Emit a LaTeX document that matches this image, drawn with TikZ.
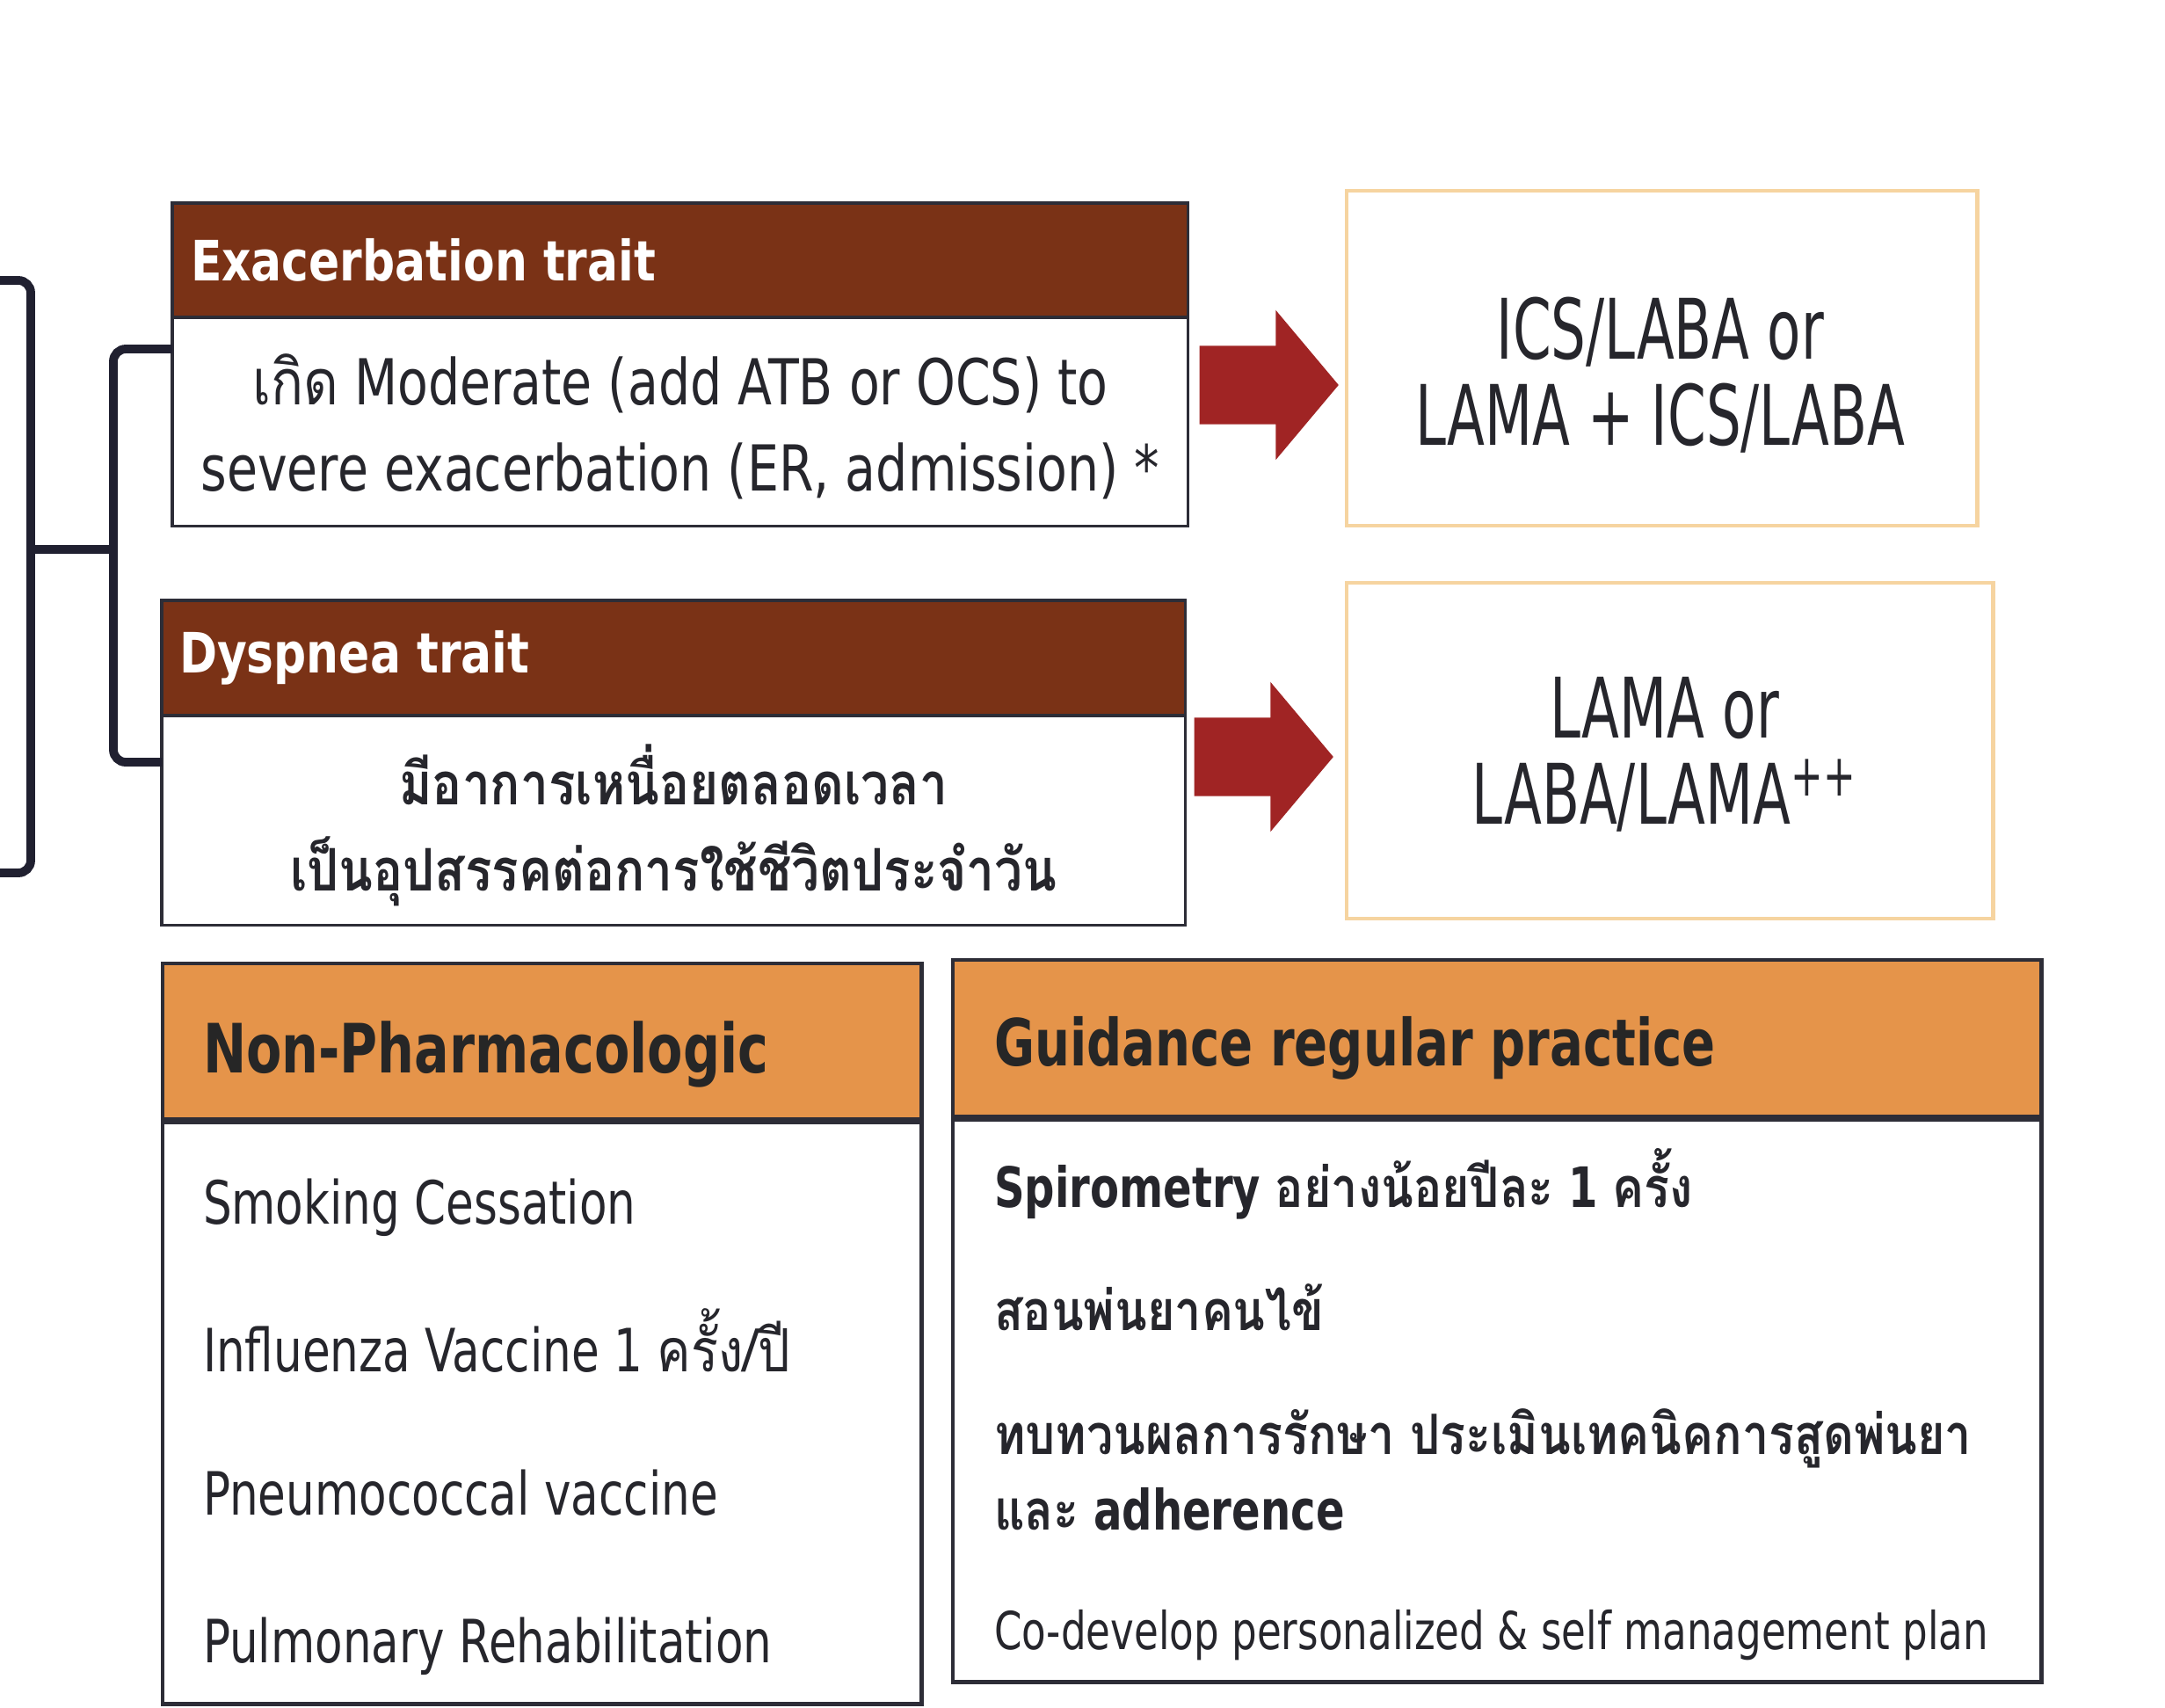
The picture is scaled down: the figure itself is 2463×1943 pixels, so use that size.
\documentclass[tikz,border=0pt]{standalone}
\usepackage{fontspec}
\setmainfont{DejaVu Sans}[FakeStretch=0.76]
\newfontfamily\narrowfont{DejaVu Sans}[FakeStretch=0.66]
\newfontfamily\hdrfont{DejaVu Sans}[FakeStretch=0.82]
\newfontfamily\bodyfont{DejaVu Sans}[FakeStretch=0.79]
\newfontfamily\thai{Loma}[Script=Thai,FakeStretch=0.85]
\usetikzlibrary{shapes.arrows}
\definecolor{brownhdr}{RGB}{122,50,22}
\definecolor{orangehdr}{RGB}{229,148,74}
\definecolor{arrred}{RGB}{160,36,36}
\definecolor{resline}{RGB}{246,212,160}
\definecolor{boxline}{RGB}{45,45,55}
\definecolor{brkcol}{RGB}{32,32,48}
\definecolor{txtcol}{RGB}{38,38,44}
\begin{document}
\begin{tikzpicture}[x=0.01cm,y=-0.01cm,
  every node/.style={inner sep=0pt,outer sep=0pt},
  brk/.style={draw=brkcol,line width=2.8pt,rounded corners=4pt},
  trhdr/.style={draw=boxline,line width=0.9pt,fill=brownhdr,anchor=north west},
  trbody/.style={draw=boxline,line width=0.9pt,fill=white,anchor=north west},
  resbox/.style={draw=resline,line width=1.2pt,fill=white,anchor=north west},
  bighdr/.style={draw=boxline,line width=1.4pt,fill=orangehdr,anchor=north west},
  bigbody/.style={draw=boxline,line width=1.4pt,fill=white,anchor=north west},
  hdrtxt/.style={text=white,font=\fontsize{18}{22}\selectfont\hdrfont\bfseries,anchor=west},
  bodytxt/.style={text=txtcol,align=center,font=\fontsize{20.5}{28}\selectfont\bodyfont},
  restxt/.style={text=txtcol,align=center,font=\fontsize{27}{28}\selectfont\narrowfont},
  bightxt/.style={text=black!85,font=\fontsize{22}{24}\selectfont\bfseries,anchor=west},
  itemtxt/.style={text=txtcol,font=\fontsize{19.3}{24}\selectfont,anchor=base west},
  gdtxt/.style={text=txtcol,font=\fontsize{18}{24}\selectfont\bfseries,anchor=base west},
  fatarrow/.style={single arrow,fill=arrred,draw=none,minimum height=1.58cm,
    minimum width=1.69cm,text height=0.88cm,text depth=0pt,
    single arrow head extend=0.405cm,single arrow tip angle=100}
]
\useasboundingbox (0,0) rectangle (2463,1943);
\fill[white] (0,0) rectangle (2463,1943);

% brackets
\coordinate (bt) at (0,319);
\coordinate (bb) at (0,993);
\coordinate (bigx) at (35,625);
\coordinate (subx) at (129,625);
\draw[brk] (bt) -| (bigx) |- (bb);
\draw[brk] (bigx) -- (subx);

% trait boxes
\node[trhdr,minimum width=11.55cm,minimum height=1.30cm] (exh) at (196,231) {};
\node[trbody,minimum width=11.55cm,minimum height=2.37cm] (exb) at (196,361) {};
\node[trhdr,minimum width=11.64cm,minimum height=1.31cm] (dyh) at (184,683) {};
\node[trbody,minimum width=11.64cm,minimum height=2.38cm] (dyb) at (184,814) {};

\draw[brk] ([yshift=-0.36cm]exb.north west) -| (subx) |- ([yshift=-0.53cm]dyb.north west);

\node[hdrtxt] (exht) at ([xshift=0.21cm]exh.west) {Exacerbation trait};
\node[hdrtxt] (dyht) at ([xshift=0.20cm]dyh.west) {Dyspnea trait};
\node[bodytxt] (exbt) at ([yshift=-0.06cm]exb.center) {{\thai เกิด} Moderate (add ATB or OCS) to\\severe exacerbation (ER, admission) *};
\node[bodytxt,font=\fontsize{19}{28}\selectfont\bfseries] (dybt) at ([yshift=-0.06cm]dyb.center) {{\thai มีอาการเหนื่อยตลอดเวลา}\\{\thai เป็นอุปสรรคต่อการใช้ชีวิตประจำวัน}};

% result boxes
\node[resbox,minimum width=7.17cm,minimum height=3.81cm] (res1) at (1532,217) {};
\node[resbox,minimum width=7.35cm,minimum height=3.82cm] (res2) at (1532,663) {};
\node[restxt] (r1t) at ([xshift=-0.02cm,yshift=-0.19cm]res1.center) {ICS/LABA or\\LAMA + ICS/LABA};
\node[restxt] (r2t) at ([xshift=-0.06cm,yshift=-0.04cm]res2.center) {LAMA or\\LABA/LAMA\textsuperscript{++}};

% arrows
\node[fatarrow] (arr1) at (1425,438) {};
\node[fatarrow] (arr2) at (1419,861) {};

% bottom boxes
\node[bighdr,minimum width=8.63cm,minimum height=1.79cm] (nph) at (185,1096) {};
\node[bigbody,minimum width=8.63cm,minimum height=6.63cm] (npb) at (185,1275) {};
\node[bighdr,minimum width=12.38cm,minimum height=1.80cm] (gdh) at (1084,1092) {};
\node[bigbody,minimum width=12.38cm,minimum height=6.41cm] (gdb) at (1084,1272) {};
\draw[draw=boxline,line width=2.4pt] (nph.south west) -- (nph.south east);
\draw[draw=boxline,line width=2.4pt] (gdh.south west) -- (gdh.south east);

\node[bightxt] (npht) at ([xshift=0.46cm,yshift=-0.14cm]nph.west) {Non-Pharmacologic};
\node[bightxt,font=\fontsize{21}{24}\selectfont\bfseries] (gdht) at ([xshift=0.47cm,yshift=-0.10cm]gdh.west) {Guidance regular practice};

\node[itemtxt] (np1) at (231,1392) {Smoking Cessation};
\node[itemtxt] (np2) at (231,1560) {Influenza Vaccine 1 {\thai ครั้ง/ปี}};
\node[itemtxt] (np3) at (231,1723) {Pneumococcal vaccine};
\node[itemtxt] (np4) at (231,1891) {Pulmonary Rehabilitation};

\node[gdtxt] (gd1) at (1131,1373) {Spirometry {\thai อย่างน้อยปีละ} 1 {\thai ครั้ง}};
\node[gdtxt] (gd2) at (1131,1513) {{\thai สอนพ่นยาคนไข้}};
\node[gdtxt] (gd3) at (1131,1654) {{\thai ทบทวนผลการรักษา ประเมินเทคนิคการสูดพ่นยา}};
\node[gdtxt] (gd4) at (1131,1740) {{\thai และ} adherence};
\node[itemtxt,font=\fontsize{16.9}{20}\selectfont] (gd5) at (1131,1876) {Co-develop personalized \& self management plan};
\end{tikzpicture}
\end{document}
